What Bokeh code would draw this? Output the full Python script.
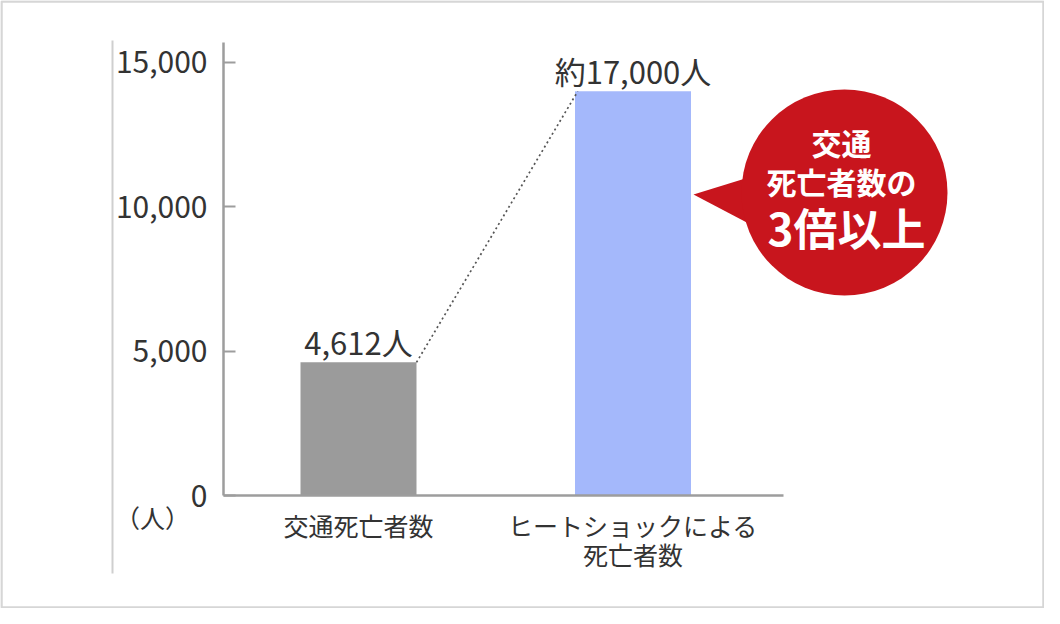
from bokeh.plotting import figure
from bokeh.models import Range1d, FixedTicker, NumeralTickFormatter
from bokeh.core.properties import value
from bokeh.embed import file_html
from bokeh.resources import INLINE

# data
categories = ["交通死亡者数", "ヒートショックによる\n死亡者数"]
bar_values = [4612, 14000]          # the second bar is drawn cut short
value_labels = ["4,612人", "約17,000人"]
bar_colors = ["#9b9b9b", "#a4b8fb"]
y_ticks = [0, 5000, 10000, 15000]
callout_lines = ["交通", "死亡者数の", "3倍以上"]
unit_label = "（人）"

FONT = "Noto Sans CJK JP"
TEXT = "#333333"
AXIS = "#9d9d9d"
RED = "#c8151d"
W, H = 1044, 608

# pixel <-> data helpers (first category centre, pixels per unit)
PX_X0, PX_PER_X = 358.0, 274.5
PX_Y0, PX_PER_Y = 495.0, 0.028867


def dx(px):
    return (px - PX_X0) / PX_PER_X


def dy(py):
    return (PX_Y0 - py) / PX_PER_Y


xs = list(range(len(categories)))
bar_w = 116 / PX_PER_X

p = figure(width=W, height=H,
           x_range=Range1d(dx(0), dx(W)), y_range=Range1d(dy(H), dy(0)),
           output_backend="svg", toolbar_location=None, min_border=0)
p.grid.grid_line_color = None
p.outline_line_color = None

# picture frame and thin rule left of the tick labels
p.quad(left=[dx(1)], right=[dx(W - 1)], top=[dy(1)], bottom=[dy(H - 1)],
       fill_color=None, line_color="#d6d6d6", line_width=2.5)
p.segment(x0=[dx(112)], y0=[dy(40)], x1=[dx(112)], y1=[dy(573)],
          line_color="#cfcfcf", line_width=2)

# bars
p.vbar(x=xs, width=bar_w, bottom=0, top=bar_values,
       fill_color=bar_colors, line_color=None)

# dotted link between the two bar tops
p.line(x=[xs[0] + bar_w / 2, xs[1] - bar_w / 2 + 0.01], y=bar_values,
       line_dash="2 3", line_color="#555555", line_width=1.7)

# value labels above bars
p.text(x=xs, y=bar_values, text=value_labels, text_align="center",
       text_baseline="bottom", y_offset=2, text_font=value(FONT),
       text_font_size="31px", text_color=TEXT)

# red speech bubble
p.patch(x=[dx(693), dx(748), dx(752)], y=[dy(194), dy(177), dy(225)],
        fill_color=RED, line_color=None)
p.scatter(x=[dx(844)], y=[dy(192)], size=206, marker="circle",
          fill_color=RED, line_color=None)
p.text(x=[dx(841), dx(841)], y=[dy(141), dy(180)], text=callout_lines[:2],
       text_align="center", text_baseline="middle", text_font=value(FONT),
       text_font_size="30px", text_font_style="bold", text_color="white")
p.text(x=[dx(846)], y=[dy(226)], text=callout_lines[2:],
       text_align="center", text_baseline="middle", text_font=value(FONT),
       text_font_size="44px", text_font_style="bold", text_color="white")

# unit label
p.text(x=[dx(152)], y=[dy(516)], text=[unit_label], text_align="center",
       text_baseline="middle", text_font=value(FONT),
       text_font_size="25px", text_color=TEXT)

# axes, pinned inside the frame
p.yaxis.fixed_location = dx(223)
p.yaxis.bounds = (0, dy(42))
p.yaxis.ticker = FixedTicker(ticks=y_ticks)
p.yaxis.formatter = NumeralTickFormatter(format="0,0")
p.yaxis.major_tick_in = 12
p.yaxis.major_tick_out = 0
p.yaxis.minor_tick_line_color = None
p.yaxis.major_label_standoff = 16
p.yaxis.major_label_text_font = FONT
p.yaxis.major_label_text_font_size = "30px"
p.yaxis.major_label_text_color = TEXT
p.yaxis.major_tick_line_color = AXIS
p.yaxis.major_tick_line_width = 2

p.xaxis.fixed_location = 0
p.xaxis.bounds = (dx(223), dx(783))
p.xaxis.ticker = FixedTicker(ticks=xs)
p.xaxis.major_label_overrides = {i: c for i, c in enumerate(categories)}
p.xaxis.major_tick_line_color = None
p.xaxis.minor_tick_line_color = None
p.xaxis.major_label_standoff = 5
p.xaxis.major_label_text_font = FONT
p.xaxis.major_label_text_font_size = "25px"
p.xaxis.major_label_text_line_height = 0.82
p.xaxis.major_label_text_color = TEXT

for ax in (p.xaxis, p.yaxis):
    ax.axis_line_color = AXIS
    ax.axis_line_width = 2.5

open("out.html", "w").write(file_html(p, INLINE))
